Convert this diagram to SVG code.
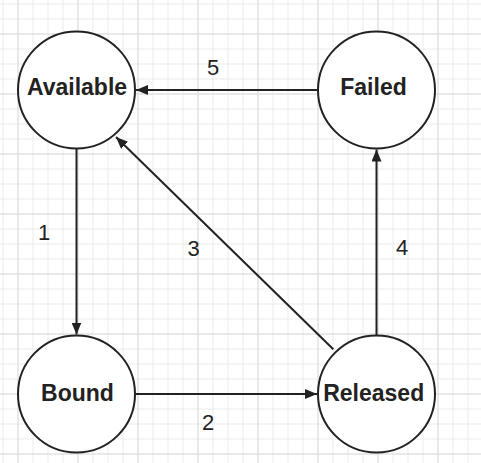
<svg xmlns="http://www.w3.org/2000/svg" width="481" height="463" viewBox="0 0 481 463">
  <defs>
    <pattern id="minor" x="2.5" y="3.5" width="15" height="15" patternUnits="userSpaceOnUse">
      <path d="M0 0.5H15M0.5 0V15" fill="none" stroke="#ebebeb" stroke-width="1"/>
    </pattern>
    <pattern id="major" x="17.5" y="33.5" width="60" height="60" patternUnits="userSpaceOnUse">
      <path d="M0 0.5H60M0.5 0V60" fill="none" stroke="#dcdcdc" stroke-width="1"/>
    </pattern>
    <marker id="arrow" viewBox="0 0 12 10" refX="12" refY="5" markerWidth="12" markerHeight="10" markerUnits="userSpaceOnUse" orient="auto">
      <path d="M0 0L12 5L0 10Z" fill="#222"/>
    </marker>
  </defs>
  <style>
    .node circle { fill: #fff; stroke: #222; stroke-width: 2; }
    .node text { font-family: "Liberation Sans", Arial, sans-serif; font-size: 23px; font-weight: bold; fill: #222; text-anchor: middle; }
    .edge { fill: none; stroke: #222; stroke-width: 2; marker-end: url(#arrow); }
    .label { font-family: "Liberation Sans", Arial, sans-serif; font-size: 22px; fill: #222; text-anchor: middle; }
  </style>
  <rect width="481" height="463" fill="#fff"/>
  <rect width="481" height="463" fill="url(#minor)"/>
  <rect width="481" height="463" fill="url(#major)"/>

  <g id="connectors">
    <line class="edge" x1="318" y1="90" x2="136" y2="90"/>
    <line class="edge" x1="76.5" y1="148.5" x2="76.5" y2="334.5"/>
    <line class="edge" x1="135" y1="394" x2="317" y2="394"/>
    <line class="edge" x1="376.5" y1="335.5" x2="376.5" y2="149.5"/>
    <line class="edge" x1="333.3" y1="349.3" x2="116" y2="137"/>
    <text class="label" x="213" y="75">5</text>
    <text class="label" x="44" y="240">1</text>
    <text class="label" x="193.5" y="256">3</text>
    <text class="label" x="402" y="255">4</text>
    <text class="label" x="208" y="430">2</text>
  </g>

  <g id="available" class="node">
    <circle cx="76.5" cy="90" r="58.5"/>
    <text x="77" y="94.5">Available</text>
  </g>
  <g id="failed" class="node">
    <circle cx="376.5" cy="90" r="58.5"/>
    <text x="373.5" y="95">Failed</text>
  </g>
  <g id="bound" class="node">
    <circle cx="76.5" cy="394" r="58.5"/>
    <text x="77.5" y="400.5">Bound</text>
  </g>
  <g id="released" class="node">
    <circle cx="376.5" cy="394" r="58.5"/>
    <text x="373.7" y="400.5">Released</text>
  </g>
</svg>
